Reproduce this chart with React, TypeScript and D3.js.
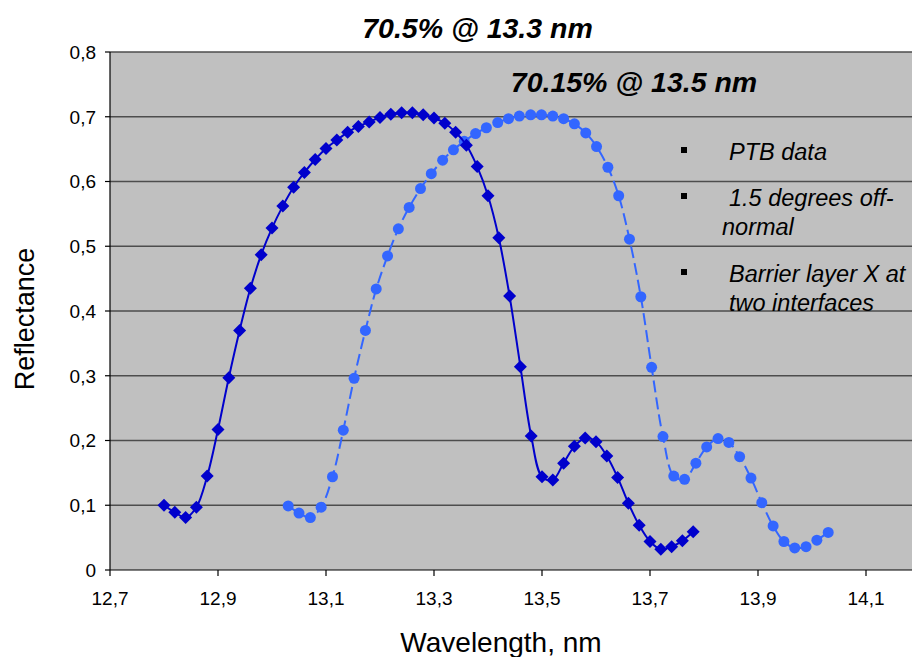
import * as d3 from 'd3';

// PTB data (dark blue, diamonds)
const ptbX = [
  12.8, 12.82, 12.84, 12.86, 12.88, 12.9, 12.92, 12.94, 12.96, 12.98,
  13.0, 13.02, 13.04, 13.06, 13.08, 13.1, 13.12, 13.14, 13.16, 13.18,
  13.2, 13.22, 13.24, 13.26, 13.28, 13.3, 13.32, 13.34, 13.36, 13.38,
  13.4, 13.42, 13.44, 13.46, 13.48, 13.5, 13.52, 13.54, 13.56, 13.58,
  13.6, 13.62, 13.64, 13.66, 13.68, 13.7, 13.72, 13.74, 13.76, 13.78,
];
const ptbY = [
  0.1, 0.089, 0.081, 0.097, 0.145, 0.217, 0.297, 0.37, 0.435, 0.487,
  0.528, 0.562, 0.591, 0.614, 0.634, 0.651, 0.664, 0.676, 0.685, 0.692,
  0.699, 0.704, 0.706, 0.706, 0.703, 0.698, 0.69, 0.676, 0.656, 0.623,
  0.578, 0.513, 0.423, 0.314, 0.207, 0.144, 0.139, 0.165, 0.191, 0.204,
  0.198, 0.176, 0.143, 0.103, 0.069, 0.044, 0.032, 0.036, 0.045, 0.059,
];

// 1.5 degrees off-normal (light blue, circles, dashed)
const offX = [
  13.03, 13.05, 13.071, 13.091, 13.112, 13.132, 13.152, 13.173, 13.193, 13.214,
  13.234, 13.254, 13.275, 13.295, 13.316, 13.336, 13.356, 13.377, 13.397, 13.418,
  13.438, 13.458, 13.479, 13.499, 13.52, 13.54, 13.56, 13.581, 13.601, 13.622,
  13.642, 13.662, 13.683, 13.703, 13.724, 13.744, 13.764, 13.785, 13.805, 13.826,
  13.846, 13.866, 13.887, 13.907, 13.928, 13.948, 13.968, 13.989, 14.009, 14.03,
];
const offY = [
  0.099, 0.088, 0.081, 0.097, 0.144, 0.216, 0.296, 0.37, 0.434, 0.485,
  0.527, 0.56, 0.589, 0.612, 0.633, 0.649, 0.662, 0.674, 0.683, 0.691,
  0.697, 0.701, 0.703, 0.703, 0.701, 0.697, 0.689, 0.675, 0.654, 0.622,
  0.578, 0.511, 0.422, 0.313, 0.206, 0.145, 0.14, 0.165, 0.19, 0.203,
  0.197, 0.175, 0.142, 0.104, 0.068, 0.044, 0.034, 0.036, 0.046, 0.058,
];

const xTicks = [12.7, 12.9, 13.1, 13.3, 13.5, 13.7, 13.9, 14.1];
const yTicks = [0, 0.1, 0.2, 0.3, 0.4, 0.5, 0.6, 0.7, 0.8];

const legendRows = [
  ['PTB data'],
  ['1.5 degrees off-', 'normal'],
  ['Barrier layer X at', 'two interfaces'],
];

const W = 912;
const H = 657;
const FONT = "'Liberation Sans', Arial, sans-serif";

const fmt = (v: number) => (v === 0 ? '0' : v.toFixed(1).replace('.', ','));

export default function App() {
  const x = d3.scaleLinear().domain([12.7, 14.1]).range([110, 866]);
  const y = d3.scaleLinear().domain([0, 0.8]).range([570, 52]);
  const plotL = x(12.7);
  const plotR = W;

  const line = d3
    .line<number>()
    .curve(d3.curveCatmullRom.alpha(0.5));

  const ptbPath = line(ptbX.map((v, i) => [x(v), y(ptbY[i])] as any) as any);
  const offPath = line(offX.map((v, i) => [x(v), y(offY[i])] as any) as any);

  const diamond = (cx: number, cy: number, r: number) =>
    `M${cx},${cy - r}L${cx + r},${cy}L${cx},${cy + r}L${cx - r},${cy}Z`;

  return (
    <svg
      width={W}
      height={H}
      style={{ position: 'absolute', left: 0, top: 0, background: '#fff' }}
      fontFamily={FONT}
    >
      <rect x={plotL} y={y(0.8)} width={plotR - plotL} height={y(0) - y(0.8)} fill="#c0c0c0" />
      {yTicks.filter((t) => t > 0).map((t) => (
        <line key={t} x1={plotL} x2={plotR} y1={y(t)} y2={y(t)} stroke="#4d4d4d" strokeWidth={1.6} />
      ))}

      {/* axes */}
      <line x1={plotL} x2={plotL} y1={y(0.8)} y2={y(0)} stroke="#000" strokeWidth={1.2} />
      <line x1={plotL} x2={plotR} y1={y(0)} y2={y(0)} stroke="#000" strokeWidth={1.2} />
      {yTicks.map((t) => (
        <g key={t}>
          <line x1={plotL - 5} x2={plotL} y1={y(t)} y2={y(t)} stroke="#000" strokeWidth={1.2} />
          <text x={plotL - 14} y={y(t)} dy="0.36em" textAnchor="end" fontSize={19}>
            {fmt(t)}
          </text>
        </g>
      ))}
      {xTicks.map((t) => (
        <g key={t}>
          <line x1={x(t)} x2={x(t)} y1={y(0)} y2={y(0) + 6} stroke="#000" strokeWidth={1.2} />
          <text x={x(t)} y={y(0) + 35} textAnchor="middle" fontSize={19}>
            {fmt(t)}
          </text>
        </g>
      ))}

      {/* series */}
      <path d={offPath ?? ''} fill="none" stroke="#3366ff" strokeWidth={2} strokeDasharray="12 5" />
      {offX.map((v, i) => (
        <circle key={i} cx={x(v)} cy={y(offY[i])} r={5.5} fill="#3366ff" />
      ))}
      <path d={ptbPath ?? ''} fill="none" stroke="#0000cc" strokeWidth={2} />
      {ptbX.map((v, i) => (
        <path key={i} d={diamond(x(v), y(ptbY[i]), 6.5)} fill="#0000cc" />
      ))}

      {/* annotations */}
      <text x={477.5} y={38} textAnchor="middle" fontSize={28.5} fontWeight="bold" fontStyle="italic">
        70.5% @ 13.3 nm
      </text>
      <text x={634} y={92} textAnchor="middle" fontSize={28.5} fontWeight="bold" fontStyle="italic">
        70.15% @ 13.5 nm
      </text>

      {/* legend */}
      <g fontStyle="italic" fontSize={23.5}>
        <rect x={681} y={147} width={6} height={6} fill="#000" />
        <text x={729} y={160}>{legendRows[0][0]}</text>
        <rect x={681} y={193} width={6} height={6} fill="#000" />
        <text x={729} y={206}>{legendRows[1][0]}</text>
        <text x={722} y={235}>{legendRows[1][1]}</text>
        <rect x={681} y={269} width={6} height={6} fill="#000" />
        <text x={729} y={282}>{legendRows[2][0]}</text>
        <text x={729} y={311}>{legendRows[2][1]}</text>
      </g>

      {/* axis titles */}
      <text x={501} y={652} textAnchor="middle" fontSize={28}>
        Wavelength, nm
      </text>
      <text transform="translate(34,319) rotate(-90)" textAnchor="middle" fontSize={27}>
        Reflectance
      </text>
    </svg>
  );
}
